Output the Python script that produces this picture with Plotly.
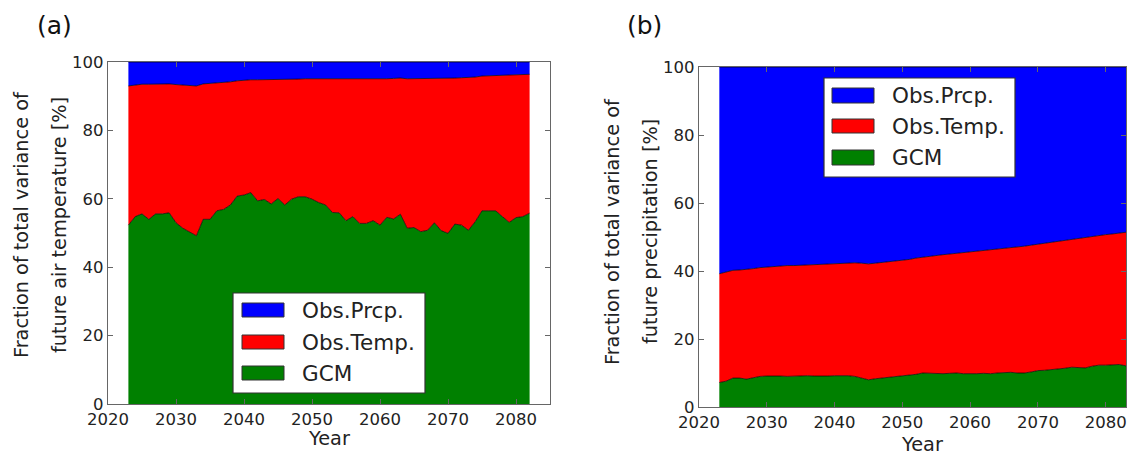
import plotly.graph_objects as go

# ---------------- data ----------------
years_a = list(range(2023, 2083))   # panel (a)
years_b = list(range(2023, 2084))   # panel (b)

# panel (a): GCM share and cumulative GCM+Obs.Temp. boundary [%]
gcm_a = [52.3, 54.8, 55.6, 54.0, 55.6, 55.6, 55.9, 53.0, 51.4, 50.4,
         49.2, 54.0, 54.0, 56.5, 56.9, 58.2, 60.8, 61.1, 61.8, 59.4,
         59.8, 58.5, 60.1, 58.2, 59.9, 60.6, 60.6, 59.9, 58.9, 58.2,
         56.0, 55.9, 53.6, 54.8, 52.8, 52.8, 53.6, 52.3, 54.6, 54.1,
         55.5, 51.4, 51.6, 50.4, 50.8, 53.0, 50.7, 49.9, 52.6, 52.3,
         50.8, 53.3, 56.5, 56.5, 56.5, 54.8, 53.1, 54.5, 54.8, 55.8]
top_a = [93.0, 93.3, 93.5, 93.5, 93.6, 93.6, 93.6, 93.4, 93.2, 93.1,
         93.0, 93.6, 93.7, 93.9, 94.0, 94.2, 94.5, 94.7, 94.8, 94.8,
         94.8, 94.8, 94.9, 94.9, 95.0, 95.0, 95.1, 95.1, 95.0, 95.0,
         95.0, 94.9, 94.9, 94.9, 95.0, 95.0, 95.0, 95.0, 95.1, 95.2,
         95.3, 95.1, 95.1, 95.1, 95.2, 95.2, 95.2, 95.3, 95.3, 95.4,
         95.4, 95.6, 95.9, 96.0, 96.0, 96.1, 96.1, 96.2, 96.3, 96.4]

# panel (b)
gcm_b = [7.2, 7.6, 8.5, 8.5, 8.2, 8.6, 9.0, 9.1, 9.2, 9.1,
         9.0, 9.1, 9.2, 9.2, 9.1, 9.0, 9.1, 9.2, 9.3, 9.2,
         9.0, 8.5, 8.0, 8.3, 8.5, 8.8, 9.0, 9.0, 9.2, 9.6,
         10.0, 9.9, 9.7, 9.8, 9.9, 10.0, 9.8, 9.7, 9.8, 9.9,
         9.8, 10.0, 10.2, 10.2, 10.0, 10.0, 10.3, 10.7, 10.8, 11.0,
         11.0, 11.4, 11.7, 11.6, 11.5, 12.0, 12.3, 12.3, 12.4, 12.5,
         12.1]
top_b = [39.2, 39.6, 40.2, 40.3, 40.4, 40.7, 41.0, 41.2, 41.4, 41.5,
         41.6, 41.6, 41.7, 41.8, 41.9, 41.9, 42.0, 42.1, 42.2, 42.3,
         42.4, 42.3, 42.1, 42.3, 42.5, 42.8, 43.0, 43.2, 43.4, 43.8,
         44.1, 44.3, 44.5, 44.8, 45.0, 45.2, 45.3, 45.5, 45.7, 45.9,
         46.1, 46.4, 46.6, 46.8, 47.0, 47.3, 47.6, 47.9, 48.2, 48.4,
         48.7, 49.0, 49.3, 49.5, 49.8, 50.2, 50.4, 50.7, 50.9, 51.1,
         51.4]

temp_a = [t - g for t, g in zip(top_a, gcm_a)]
prcp_a = [100 - t for t in top_a]
temp_b = [t - g for t, g in zip(top_b, gcm_b)]
prcp_b = [100 - t for t in top_b]

names = ["GCM", "Obs.Temp.", "Obs.Prcp."]
colors = ["#008000", "#FF0000", "#0000FF"]
x_ticks = [2020, 2030, 2040, 2050, 2060, 2070, 2080]
y_ticks = [0, 20, 40, 60, 80, 100]

# page body has an 8px margin -> figure is offset by (8, 8)
OFF = 8
W, H = 1138 - OFF, 455 - OFF
def px(x): return (x - OFF) / W
def py(y): return 1 - (y - OFF) / H

fig = go.Figure()
for vals, nm, col in zip([gcm_a, temp_a, prcp_a], names, colors):
    fig.add_trace(go.Scatter(x=years_a, y=vals, name=nm, mode="lines",
                             stackgroup="a", fillcolor=col, showlegend=False,
                             line=dict(color="black", width=0.7),
                             xaxis="x", yaxis="y"))
for vals, nm, col in zip([gcm_b, temp_b, prcp_b], names, colors):
    fig.add_trace(go.Scatter(x=years_b, y=vals, name=nm, mode="lines",
                             stackgroup="b", fillcolor=col, showlegend=False,
                             line=dict(color="black", width=0.7),
                             xaxis="x2", yaxis="y2"))

axcol = "#666666"
tickfont = dict(family="DejaVu Sans", size=16.5, color="#222222")
common_x = dict(tickvals=x_ticks, ticks="inside", ticklen=5, tickcolor=axcol,
                showline=True, linecolor=axcol, linewidth=1.3, mirror="ticks",
                showgrid=False, zeroline=False, tickfont=tickfont, automargin=False)
common_y = dict(tickvals=y_ticks, range=[0, 100], ticks="inside", ticklen=5,
                tickcolor=axcol, showline=True, linecolor=axcol, linewidth=1.3,
                mirror="ticks", showgrid=False, zeroline=False, tickfont=tickfont,
                automargin=False)

fig.update_layout(
    width=W, height=H, margin=dict(l=0, r=0, t=0, b=0, autoexpand=False),
    paper_bgcolor="white", plot_bgcolor="white", showlegend=False,
    xaxis=dict(domain=[px(108), px(550)], range=[2020, 2085], anchor="y", **common_x),
    yaxis=dict(domain=[py(404), py(62)], anchor="x", **common_y),
    xaxis2=dict(domain=[px(699), px(1126)], range=[2020, 2083], anchor="y2", **common_x),
    yaxis2=dict(domain=[py(407), py(67)], anchor="x2", **common_y),
)

# ---- legends (drawn as boxes + text, matplotlib style) ----
legend_order = [2, 1, 0]   # Obs.Prcp., Obs.Temp., GCM
legfont = dict(family="DejaVu Sans", size=21.5, color="#222222")
def draw_legend(box, sym_x, sym_ys, text_x):
    x0, y0, x1, y1 = box
    fig.add_shape(type="rect", xref="paper", yref="paper",
                  x0=px(x0), x1=px(x1), y0=py(y1), y1=py(y0),
                  fillcolor="white", line=dict(color="#333333", width=1.2), layer="above")
    for idx, (sy0, sy1) in zip(legend_order, sym_ys):
        fig.add_shape(type="rect", xref="paper", yref="paper",
                      x0=px(sym_x[0]), x1=px(sym_x[1]), y0=py(sy1), y1=py(sy0),
                      fillcolor=colors[idx], line=dict(color="#333333", width=1),
                      layer="above")
        fig.add_annotation(text=names[idx], xref="paper", yref="paper",
                           x=px(text_x), y=py((sy0 + sy1) / 2), showarrow=False,
                           xanchor="left", yanchor="middle", font=legfont)

draw_legend((233, 293, 425, 393), (242, 284),
            [(303, 317), (335, 349), (366, 380)], 300)
draw_legend((824, 78, 1015, 177), (832, 874),
            [(88, 103), (119, 133), (150, 165)], 890)

annfont = dict(family="DejaVu Sans", size=19.3, color="#222222")
anns = [
    dict(text="Fraction of total variance of", x=px(21), y=py(225), textangle=-90),
    dict(text="future air temperature [%]", x=px(59), y=py(225), textangle=-90),
    dict(text="Fraction of total variance of", x=px(612), y=py(232), textangle=-90),
    dict(text="future precipitation [%]", x=px(650), y=py(232), textangle=-90),
    dict(text="Year", x=px(329), y=py(438)),
    dict(text="Year", x=px(922), y=py(444)),
]
for a in anns:
    fig.add_annotation(xref="paper", yref="paper", showarrow=False,
                       xanchor="center", yanchor="middle", font=annfont, **a)
for txt, x in [("(a)", 54), ("(b)", 644)]:
    fig.add_annotation(text=txt, xref="paper", yref="paper", x=px(x), y=py(25),
                       showarrow=False, xanchor="center", yanchor="middle",
                       font=dict(family="DejaVu Sans", size=25, color="#111111"))

fig.write_html("out.html")
